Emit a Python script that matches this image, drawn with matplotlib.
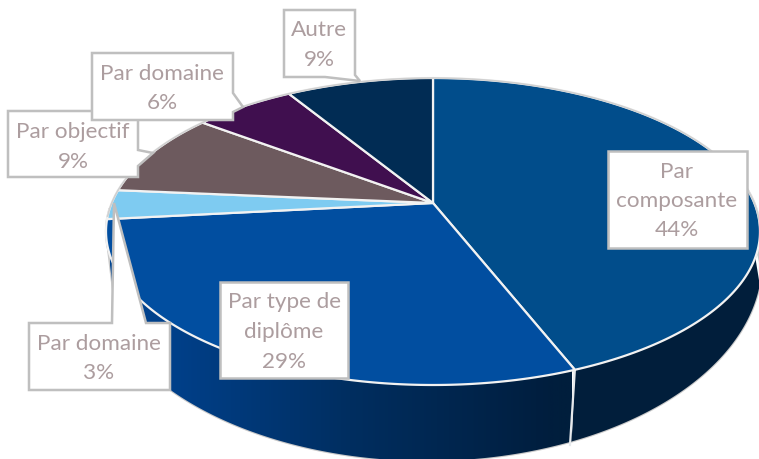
import numpy as np
import matplotlib
matplotlib.use("Agg")
import matplotlib.pyplot as plt
from matplotlib.patches import Polygon
from matplotlib.colors import LinearSegmentedColormap

# data (slice sizes; printed labels are the rounded values)
categories = ["Par composante", "Par type de diplôme", "Par domaine", "Par objectif", "Par domaine", "Autre"]
shares = [44.05, 29.25, 3.1, 8.9, 6.0, 8.7]
colors = ["#014D8B", "#014EA0", "#7ECBF1", "#6D5A5E", "#400F4F", "#012C54"]
label_lines = [["Par", "composante", "44%"], ["Par type de", "diplôme", "29%"], ["Par domaine", "3%"],
               ["Par objectif", "9%"], ["Par domaine", "6%"], ["Autre", "9%"]]

plt.rcParams['font.family'] = ['Lato', 'DejaVu Sans']
fig = plt.figure(figsize=(7.59, 4.59), dpi=100)
ax = fig.add_axes([0, 0, 1, 1])
ax.set_xlim(0, 759); ax.set_ylim(459, 0); ax.axis("off")

# perspective disc: clockwise angle from top -> pixel position
AX, AY, a, b, k = 433, 203, 321.3, 148.2, 0.1857
def top(th):
    u, v = np.sin(th), np.cos(th)
    return AX + a*u/(1+k*v), AY - b*v/(1+k*v)

bounds = np.radians(np.cumsum([0] + shares) / sum(shares) * 360)

# side wall: front half of the top rim + lower rim ellipse
BX, BY, BA, BB = 427, 262, 335, 199
phi = np.linspace(0, np.pi, 300)
bx = BX + BA*np.cos(phi); by = BY + BB*np.sin(phi)
keep = bx >= 130
rx, ry = top(np.radians(np.linspace(82, 268, 300)))
low = np.column_stack([np.minimum(bx[keep], 760), by[keep]])
wall_xy = np.vstack([np.column_stack([rx, ry]), [[107, 240], [113, 290]], low[::-1]])
ax.add_patch(Polygon(wall_xy, closed=True, fc="none", ec="#C9C9C9", lw=1.6, zorder=1))
cmap = LinearSegmentedColormap.from_list("w", [(0, "#004490"), (0.13, "#00408A"), (0.52, "#002E60"),
                                                (0.95, "#001E3E"), (1, "#001E3C")])
im = ax.imshow(np.linspace(0, 1, 512).reshape(1, -1), extent=(110, 572, 470, 190), cmap=cmap,
               aspect="auto", zorder=2)
im.set_clip_path(Polygon(wall_xy, closed=True, transform=ax.transData))
ax.set_xlim(0, 759); ax.set_ylim(459, 0)

# darker wall under the first slice
rx1, ry1 = top(np.linspace(np.radians(82), bounds[1], 120))
k2 = (bx >= 570) & (bx <= 760)
ax.add_patch(Polygon(np.vstack([np.column_stack([rx1, ry1]),
                                np.column_stack([np.minimum(bx[k2], 760), by[k2]])[::-1]]),
                     closed=True, fc="#011E3B", ec="none", zorder=3))
px, py = top(bounds[1])
ax.plot([px, 570], [py, 445], color="#E6E9EC", lw=1.6, zorder=4)

# top surface
for i, c in enumerate(colors):
    x, y = top(np.linspace(bounds[i], bounds[i+1], 200))
    ax.add_patch(Polygon(np.vstack([[AX, AY], np.column_stack([x, y])]), closed=True, fc=c,
                         ec="#F2F2F2", lw=1.6, joinstyle="round", zorder=5))
x, y = top(np.radians(np.linspace(-95, 100, 200)))
ax.plot(x, y, color="#D0D0D0", lw=1.2, zorder=6)

# callouts
callouts = [
    [(608, 151), (747, 151), (747, 248), (608, 248)],
    [(220, 282), (348, 282), (348, 378), (220, 378)],
    [(29, 323), (112, 323), (114, 203), (146, 323), (170, 323), (170, 390), (29, 390)],
    [(8, 111), (138, 111), (138, 150), (153, 153), (138, 166), (138, 177), (8, 177)],
    [(92, 53), (233, 53), (233, 93), (243, 107), (233, 112), (233, 120), (92, 120)],
    [(284, 10), (355, 10), (355, 75), (360, 81), (325, 77), (284, 77)],
]
centres = [677, 284, 99, 73, 162, 319]
tops = [171, 302, 343, 132, 73, 30]
for i, (poly, cx, ty, lines) in enumerate(zip(callouts, centres, tops, label_lines)):
    z = 10 + i
    ax.add_patch(Polygon(poly, closed=True, fc="white", ec="#BFBFBF", lw=1.8, joinstyle="miter", zorder=z))
    for j, line in enumerate(lines):
        ax.text(cx, ty + j*29.5 + 0.5, line, ha="center", va="center", fontsize=16.2, color="#AC9D9F", zorder=z)

fig.savefig("out.png", dpi=100)
